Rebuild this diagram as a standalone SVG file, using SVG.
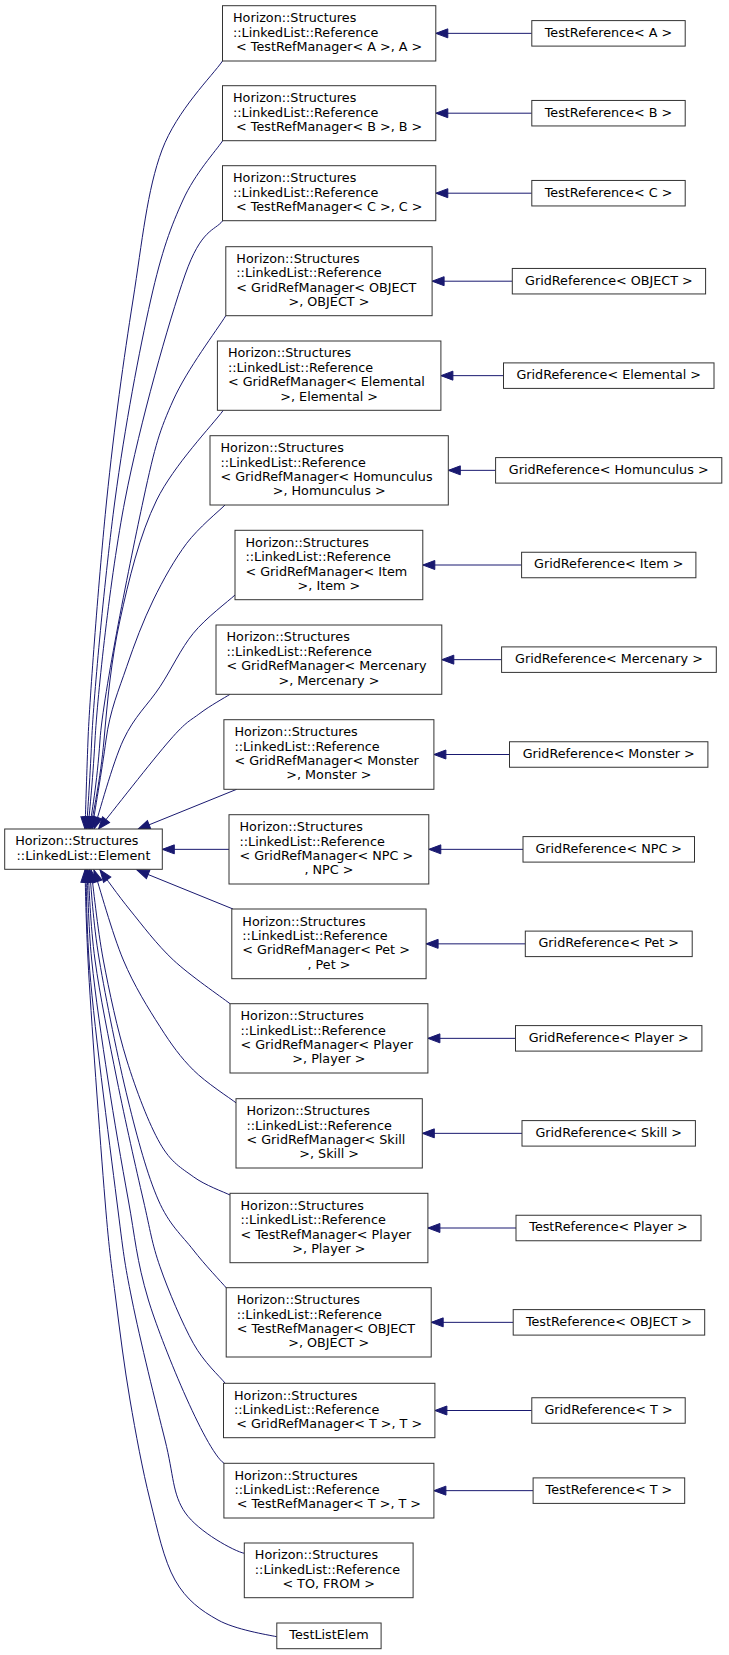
<svg xmlns="http://www.w3.org/2000/svg" width="729" height="1655" viewBox="0 0 729 1655">
<style>
.node rect{fill:#fff;stroke:#333;stroke-width:1}
text{font-family:"DejaVu Sans","Liberation Sans",sans-serif;font-size:12.75px;fill:#000}
.c{text-anchor:middle}
#edges path{fill:none;stroke:#191970;stroke-width:1;marker-end:url(#ah)}
</style>
<defs>
<marker id="ah" viewBox="0 0 12 9" refX="12" refY="4.5" markerWidth="12" markerHeight="9" markerUnits="userSpaceOnUse" orient="auto" style="overflow:visible"><path d="M0,0 L12,4.5 L0,9 z" fill="#191970" stroke="#191970" stroke-width="1"/></marker>
</defs>
<rect width="729" height="1655" fill="#fff"/>
<g id="edges">
<path d="M222.5,61 C212.4,75.8 177,110.2 162,150 C147.1,189.8 142.2,241.7 133,300 C123.8,358.3 114.2,426.7 106.7,500 C99.2,573.3 89.5,700 88,740 C86.5,780 85.5,814.2 85,829"/>
<path d="M222.5,141 C215.9,150.8 195,173.5 183,200 C171,226.5 162,250 150.7,300 C139.4,350 124.8,426.7 115,500 C105.2,573.3 93.7,695 91.7,740 C89.7,785 87.4,814.2 86.5,829"/>
<path d="M222.5,221 C214.5,231 201.3,228.5 185,275 C168.8,321.5 140,422.5 125,500 C110,577.5 97.5,695 95,740 C92.5,785 89.2,814.2 88,829"/>
<path d="M225.8,315.7 C217.1,329.8 187.1,369.3 173.3,400 C159.6,430.7 155.5,443.3 143.3,500 C131.1,556.7 103,695 100,740 C97,785 91.3,814.2 89.5,829"/>
<path d="M223.3,410.3 C212.2,425.3 173.9,465.1 156.7,500 C139.5,535 128.8,580 120,620 C111.2,660 107.5,700 104,740 C100.5,780 92.75,814.2 90.5,829"/>
<path d="M225,505 C218.6,511.4 198.7,527.5 186.7,543.3 C174.8,559.1 163.3,579.4 153.3,600 C143.3,620.6 134.6,643.4 126.7,666.7 C118.8,690 110,710 106,740 C102,770 94.3,814.2 92,829"/>
<path d="M235,595 C228.1,601.4 205.8,618 193.3,633.3 C180.8,648.6 171.7,668.9 160,686.7 C148.3,704.5 134.3,716.3 123.3,740 C112.3,763.7 98.9,814.2 94,829"/>
<path d="M230,694.3 C225,697.5 210,705.7 200,713.3 C190,720.9 186.9,720.7 170,740 C153.1,759.3 110.4,814.2 98.5,829"/>
<path d="M236.7,789.3 L138,829.3"/>
<path d="M229,849.35 L162.3,849.35"/>
<path d="M233,909 L137,870"/>
<path d="M230,1003.7 C220.6,996.4 190,975.6 173.3,960 C156.6,944.4 142.2,925 130,910 C117.8,895 105,876.7 100,870"/>
<path d="M236.7,1103.3 C229.5,1097.8 206.1,1082.8 193.3,1070 C180.5,1057.2 171.7,1045 160,1026.7 C148.3,1008.4 134.3,986.1 123.3,960 C112.3,933.9 98.9,885 94,870"/>
<path d="M230,1195 C223.9,1192 205,1185.3 193.3,1176.7 C181.6,1168.1 171.1,1162.8 160,1143.3 C148.9,1123.9 136.2,1090.6 126.7,1060 C117.3,1029.5 109.3,991.7 103.3,960 C97.4,928.3 93.1,885 91,870"/>
<path d="M226.7,1288.3 C221.1,1281.9 204.7,1264.7 193.3,1250 C181.9,1235.3 169.2,1225 158.3,1200 C147.4,1175 137.8,1140 128,1100 C118.2,1060 105.7,998.3 99.3,960 C92.9,921.7 91.1,885 89.5,870"/>
<path d="M225,1383 C219.7,1376.4 204.1,1362.7 193.3,1343.3 C182.5,1323.9 168.3,1290.6 160,1266.7 C151.7,1242.8 150.5,1231.1 143.3,1200 C136.1,1168.9 125.1,1120 117,1080 C109,1040 99.8,995 95,960 C90.2,925 89.2,885 88,870"/>
<path d="M224,1463.3 C205,1450 160.4,1340 148.4,1300 C136.4,1260 135,1236.7 128.3,1200 C121.6,1163.3 114.1,1120 108,1080 C101.9,1040 95.2,995 91.7,960 C88.2,925 87.8,885 87,870"/>
<path d="M244.3,1553.3 C234.3,1551.3 198.6,1531.9 185.4,1513 C172.2,1494.1 173.9,1475.5 165,1440 C156.1,1404.5 140.05,1340 132,1300 C123.95,1260 123.9,1256.7 116.7,1200 C109.5,1143.3 92,1010 89,960 C86,910 86.5,885 86,870"/>
<path d="M276.8,1636.7 C266.8,1634.7 235,1629.5 218,1620 C201,1610.6 186.3,1600 175,1580 C163.7,1560 157.5,1530 150,1500 C142.5,1470 135.7,1433.3 130,1400 C124.3,1366.7 120.1,1333.3 115.9,1300 C111.7,1266.7 109.65,1256.7 105,1200 C100.35,1143.3 90.5,1010 88,960 C85.5,910 85.5,885 85,870"/>
<path d="M531.8,33.35 L435.8,33.35"/>
<path d="M531.8,113.2 L435.8,113.2"/>
<path d="M531.8,193.2 L435.8,193.2"/>
<path d="M512.3,281.2 L432.1,281.2"/>
<path d="M503.5,375.65 L440.9,375.65"/>
<path d="M495.6,470.35 L448.3,470.35"/>
<path d="M521.6,565 L422.8,565"/>
<path d="M501.6,659.65 L441.8,659.65"/>
<path d="M509.5,754.5 L433.9,754.5"/>
<path d="M523,849.35 L428.8,849.35"/>
<path d="M525.3,943.85 L426.1,943.85"/>
<path d="M515.5,1038.35 L427.9,1038.35"/>
<path d="M522,1133.35 L422.3,1133.35"/>
<path d="M516,1228 L427.9,1228"/>
<path d="M513.2,1322.35 L431.2,1322.35"/>
<path d="M531.8,1410.5 L434.9,1410.5"/>
<path d="M533.1,1490.65 L433.9,1490.65"/>
</g>
<g id="n_element" class="node"><rect x="4.7" y="829" width="157.6" height="40.3"/><text x="15.2" y="845.3">Horizon::Structures</text><text class="c" x="83.5" y="859.7">::LinkedList::Element</text></g>
<g id="n_ref_a" class="node"><rect x="222.5" y="5.7" width="213.3" height="55.3"/><text x="233" y="22.35">Horizon::Structures</text><text x="233" y="36.7">::LinkedList::Reference</text><text class="c" x="329.15" y="51.05">&lt; TestRefManager&lt; A &gt;, A &gt;</text></g>
<g id="n_ref_b" class="node"><rect x="222.5" y="85.7" width="213.3" height="55"/><text x="233" y="102.2">Horizon::Structures</text><text x="233" y="116.55">::LinkedList::Reference</text><text class="c" x="329.15" y="130.9">&lt; TestRefManager&lt; B &gt;, B &gt;</text></g>
<g id="n_ref_c" class="node"><rect x="222.5" y="165.7" width="213.3" height="55"/><text x="233" y="182.2">Horizon::Structures</text><text x="233" y="196.55">::LinkedList::Reference</text><text class="c" x="329.15" y="210.9">&lt; TestRefManager&lt; C &gt;, C &gt;</text></g>
<g id="n_ref_object" class="node"><rect x="225.8" y="246.7" width="206.3" height="69"/><text x="236.3" y="263.02">Horizon::Structures</text><text x="236.3" y="277.37">::LinkedList::Reference</text><text x="236.3" y="291.72">&lt; GridRefManager&lt; OBJECT</text><text class="c" x="328.95" y="306.07">&gt;, OBJECT &gt;</text></g>
<g id="n_ref_elemental" class="node"><rect x="217.4" y="341" width="223.5" height="69.3"/><text x="227.9" y="357.47">Horizon::Structures</text><text x="227.9" y="371.82">::LinkedList::Reference</text><text x="227.9" y="386.17">&lt; GridRefManager&lt; Elemental</text><text class="c" x="329.15" y="400.52">&gt;, Elemental &gt;</text></g>
<g id="n_ref_homunculus" class="node"><rect x="210" y="435.7" width="238.3" height="69.3"/><text x="220.5" y="452.17">Horizon::Structures</text><text x="220.5" y="466.52">::LinkedList::Reference</text><text x="220.5" y="480.87">&lt; GridRefManager&lt; Homunculus</text><text class="c" x="329.15" y="495.22">&gt;, Homunculus &gt;</text></g>
<g id="n_ref_item" class="node"><rect x="235" y="530.3" width="187.8" height="69.4"/><text x="245.5" y="546.82">Horizon::Structures</text><text x="245.5" y="561.17">::LinkedList::Reference</text><text x="245.5" y="575.52">&lt; GridRefManager&lt; Item</text><text class="c" x="328.9" y="589.87">&gt;, Item &gt;</text></g>
<g id="n_ref_mercenary" class="node"><rect x="216" y="625" width="225.8" height="69.3"/><text x="226.5" y="641.47">Horizon::Structures</text><text x="226.5" y="655.82">::LinkedList::Reference</text><text x="226.5" y="670.17">&lt; GridRefManager&lt; Mercenary</text><text class="c" x="328.9" y="684.52">&gt;, Mercenary &gt;</text></g>
<g id="n_ref_monster" class="node"><rect x="223.9" y="719.7" width="210" height="69.6"/><text x="234.4" y="736.32">Horizon::Structures</text><text x="234.4" y="750.67">::LinkedList::Reference</text><text x="234.4" y="765.02">&lt; GridRefManager&lt; Monster</text><text class="c" x="328.9" y="779.37">&gt;, Monster &gt;</text></g>
<g id="n_ref_npc" class="node"><rect x="229" y="814.7" width="199.8" height="69.3"/><text x="239.5" y="831.17">Horizon::Structures</text><text x="239.5" y="845.52">::LinkedList::Reference</text><text x="239.5" y="859.87">&lt; GridRefManager&lt; NPC &gt;</text><text class="c" x="328.9" y="874.22">, NPC &gt;</text></g>
<g id="n_ref_pet" class="node"><rect x="231.8" y="909" width="194.3" height="69.7"/><text x="242.3" y="925.67">Horizon::Structures</text><text x="242.3" y="940.02">::LinkedList::Reference</text><text x="242.3" y="954.37">&lt; GridRefManager&lt; Pet &gt;</text><text class="c" x="328.95" y="968.72">, Pet &gt;</text></g>
<g id="n_ref_player" class="node"><rect x="230" y="1003.7" width="197.9" height="69.3"/><text x="240.5" y="1020.17">Horizon::Structures</text><text x="240.5" y="1034.52">::LinkedList::Reference</text><text x="240.5" y="1048.87">&lt; GridRefManager&lt; Player</text><text class="c" x="328.95" y="1063.22">&gt;, Player &gt;</text></g>
<g id="n_ref_skill" class="node"><rect x="236" y="1098.7" width="186.3" height="69.3"/><text x="246.5" y="1115.17">Horizon::Structures</text><text x="246.5" y="1129.52">::LinkedList::Reference</text><text x="246.5" y="1143.87">&lt; GridRefManager&lt; Skill</text><text class="c" x="329.15" y="1158.22">&gt;, Skill &gt;</text></g>
<g id="n_ref_tplayer" class="node"><rect x="230" y="1193.3" width="197.9" height="69.4"/><text x="240.5" y="1209.82">Horizon::Structures</text><text x="240.5" y="1224.17">::LinkedList::Reference</text><text x="240.5" y="1238.52">&lt; TestRefManager&lt; Player</text><text class="c" x="328.95" y="1252.87">&gt;, Player &gt;</text></g>
<g id="n_ref_tobject" class="node"><rect x="226.2" y="1287.7" width="205" height="69.3"/><text x="236.7" y="1304.17">Horizon::Structures</text><text x="236.7" y="1318.52">::LinkedList::Reference</text><text x="236.7" y="1332.87">&lt; TestRefManager&lt; OBJECT</text><text class="c" x="328.7" y="1347.22">&gt;, OBJECT &gt;</text></g>
<g id="n_ref_gridt" class="node"><rect x="223.5" y="1383.3" width="211.4" height="54.4"/><text x="234" y="1399.5">Horizon::Structures</text><text x="234" y="1413.85">::LinkedList::Reference</text><text class="c" x="329.2" y="1428.2">&lt; GridRefManager&lt; T &gt;, T &gt;</text></g>
<g id="n_ref_testt" class="node"><rect x="223.9" y="1463.3" width="210" height="54.7"/><text x="234.4" y="1479.65">Horizon::Structures</text><text x="234.4" y="1494">::LinkedList::Reference</text><text class="c" x="328.9" y="1508.35">&lt; TestRefManager&lt; T &gt;, T &gt;</text></g>
<g id="n_ref_tofrom" class="node"><rect x="244.3" y="1543" width="168.8" height="54.7"/><text x="254.8" y="1559.35">Horizon::Structures</text><text x="254.8" y="1573.7">::LinkedList::Reference</text><text class="c" x="328.7" y="1588.05">&lt; TO, FROM &gt;</text></g>
<g id="n_testlistelem" class="node"><rect x="276.8" y="1623" width="104.3" height="25.7"/><text class="c" x="328.95" y="1639.2">TestListElem</text></g>
<g id="n_testref_a" class="node"><rect x="531.8" y="20.6" width="153.4" height="25.5"/><text class="c" x="608.5" y="36.7">TestReference&lt; A &gt;</text></g>
<g id="n_testref_b" class="node"><rect x="531.8" y="100.45" width="153.4" height="25.5"/><text class="c" x="608.5" y="116.55">TestReference&lt; B &gt;</text></g>
<g id="n_testref_c" class="node"><rect x="531.8" y="180.45" width="153.4" height="25.5"/><text class="c" x="608.5" y="196.55">TestReference&lt; C &gt;</text></g>
<g id="n_gridref_object" class="node"><rect x="512.3" y="268.45" width="193.3" height="25.5"/><text class="c" x="608.95" y="284.55">GridReference&lt; OBJECT &gt;</text></g>
<g id="n_gridref_elemental" class="node"><rect x="503.5" y="362.9" width="210.5" height="25.5"/><text class="c" x="608.75" y="379">GridReference&lt; Elemental &gt;</text></g>
<g id="n_gridref_homunculus" class="node"><rect x="495.6" y="457.6" width="226.2" height="25.5"/><text class="c" x="608.7" y="473.7">GridReference&lt; Homunculus &gt;</text></g>
<g id="n_gridref_item" class="node"><rect x="521.6" y="552.25" width="174.3" height="25.5"/><text class="c" x="608.75" y="568.35">GridReference&lt; Item &gt;</text></g>
<g id="n_gridref_mercenary" class="node"><rect x="501.6" y="646.9" width="214.7" height="25.5"/><text class="c" x="608.95" y="663">GridReference&lt; Mercenary &gt;</text></g>
<g id="n_gridref_monster" class="node"><rect x="509.5" y="741.75" width="198.4" height="25.5"/><text class="c" x="608.7" y="757.85">GridReference&lt; Monster &gt;</text></g>
<g id="n_gridref_npc" class="node"><rect x="523" y="836.6" width="171.5" height="25.5"/><text class="c" x="608.75" y="852.7">GridReference&lt; NPC &gt;</text></g>
<g id="n_gridref_pet" class="node"><rect x="525.3" y="931.1" width="166.9" height="25.5"/><text class="c" x="608.75" y="947.2">GridReference&lt; Pet &gt;</text></g>
<g id="n_gridref_player" class="node"><rect x="515.5" y="1025.6" width="186.4" height="25.5"/><text class="c" x="608.7" y="1041.7">GridReference&lt; Player &gt;</text></g>
<g id="n_gridref_skill" class="node"><rect x="522" y="1120.6" width="173.4" height="25.5"/><text class="c" x="608.7" y="1136.7">GridReference&lt; Skill &gt;</text></g>
<g id="n_testref_player" class="node"><rect x="516" y="1215.25" width="185" height="25.5"/><text class="c" x="608.5" y="1231.35">TestReference&lt; Player &gt;</text></g>
<g id="n_testref_object" class="node"><rect x="513.2" y="1309.6" width="191.5" height="25.5"/><text class="c" x="608.95" y="1325.7">TestReference&lt; OBJECT &gt;</text></g>
<g id="n_gridref_t" class="node"><rect x="531.8" y="1397.75" width="153.4" height="25.5"/><text class="c" x="608.5" y="1413.85">GridReference&lt; T &gt;</text></g>
<g id="n_testref_t" class="node"><rect x="533.1" y="1477.9" width="151.6" height="25.5"/><text class="c" x="608.9" y="1494">TestReference&lt; T &gt;</text></g>
</svg>
